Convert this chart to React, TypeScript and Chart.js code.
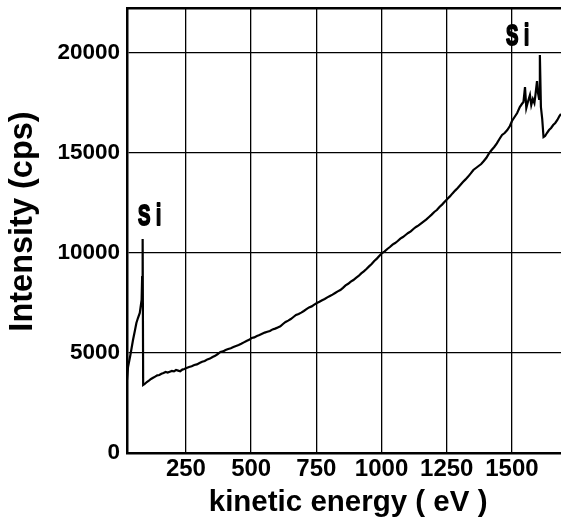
import React, { useEffect, useRef } from "react";
import { Chart, registerables } from "chart.js";

Chart.register(...registerables);

const energy = [
  24, 28, 37, 47, 54, 60, 66, 73, 80, 82, 84, 86, 92, 100, 108, 116, 124, 132, 140, 148,
  156, 164, 172, 180, 188, 196, 204, 212, 220, 228, 236, 244, 252, 262, 272, 282, 292, 302, 312, 322,
  332, 342, 352, 362, 372, 382, 392, 402, 412, 422, 432, 442, 452, 462, 472, 482, 492, 502, 512, 522,
  532, 542, 552, 562, 572, 582, 592, 602, 612, 622, 632, 642, 652, 662, 672, 682, 692, 702, 712, 722,
  732, 742, 752, 762, 772, 782, 792, 802, 812, 822, 832, 842, 852, 862, 872, 882, 892, 902, 912, 922,
  932, 942, 952, 962, 972, 982, 992, 1002, 1012, 1022, 1032, 1042, 1052, 1062, 1072, 1082, 1092, 1102, 1112, 1122,
  1132, 1142, 1152, 1162, 1172, 1182, 1192, 1202, 1212, 1222, 1232, 1242, 1252, 1262, 1272, 1282, 1292, 1302, 1312, 1322,
  1332, 1342, 1352, 1362, 1372, 1382, 1392, 1402, 1412, 1422, 1432, 1442, 1452, 1462, 1472, 1482, 1492, 1500, 1510, 1520,
  1530, 1538, 1544, 1550, 1555, 1562, 1569, 1574, 1580, 1586, 1590, 1596, 1600, 1604, 1607, 1611, 1616, 1621, 1627, 1634,
  1642, 1650, 1658, 1666, 1674, 1682, 1688,
];

const counts = [
  3650, 4300, 4900, 5650, 6100, 6500, 6750, 7000, 7650, 8800, 10700, 3400, 3450, 3550, 3620, 3700, 3760, 3820, 3880, 3900,
  3960, 4000, 4050, 4020, 4060, 4100, 4080, 4150, 4120, 4090, 4170, 4200, 4250, 4300, 4340, 4400, 4430, 4500, 4560, 4600,
  4680, 4720, 4800, 4860, 4950, 5050, 5080, 5150, 5200, 5240, 5300, 5350, 5400, 5460, 5530, 5600, 5660, 5750, 5780, 5850,
  5900, 5960, 6020, 6060, 6100, 6180, 6220, 6280, 6330, 6450, 6550, 6620, 6700, 6800, 6900, 6950, 7020, 7100, 7190, 7280,
  7330, 7420, 7500, 7560, 7640, 7700, 7780, 7850, 7920, 8000, 8080, 8150, 8260, 8380, 8460, 8570, 8650, 8760, 8850, 8980,
  9080, 9200, 9330, 9450, 9600, 9720, 9860, 10000, 10080, 10200, 10300, 10420, 10500, 10600, 10720, 10800, 10900, 11000, 11080, 11200,
  11300, 11380, 11480, 11580, 11680, 11800, 11920, 12050, 12150, 12300, 12420, 12560, 12700, 12830, 12980, 13120, 13250, 13400, 13550, 13680,
  13820, 13980, 14150, 14250, 14350, 14450, 14600, 14760, 14980, 15150, 15300, 15480, 15700, 15900, 16000, 16150, 16350, 16600, 16800, 17000,
  17300, 17450, 17550, 18300, 17250, 17600, 17900, 17400, 17700, 17500, 17900, 18600, 18000, 17700, 19900, 17300, 16700, 15800, 15850, 16000,
  16150, 16250, 16400, 16500, 16650, 16850, 16950,
];

const xTickValues = [250, 500, 750, 1000, 1250, 1500];
const yTickValues = [0, 5000, 10000, 15000, 20000];
const xLabel = " kinetic energy ( eV )";
const yLabel = "  Intensity (cps)";
const peakLabels = ["Si", "Si"];
const peakLabelEnergy = [112, 1523];
const peakLabelCounts = [11400, 20400];

const FONT = '"Liberation Sans", Arial, Helvetica, sans-serif';

const peakLabelPlugin = {
  id: "peakLabels",
  afterDatasetsDraw(chart: any) {
    const { ctx, scales } = chart;
    ctx.save();
    ctx.fillStyle = "#000";
    ctx.strokeStyle = "#000";
    ctx.lineWidth = 2;
    ctx.lineJoin = "round";
    ctx.font = `bold 30px ${FONT}`;
    ctx.textAlign = "center";
    ctx.textBaseline = "alphabetic";
    peakLabels.forEach((t, i) => {
      const x = scales.x.getPixelForValue(peakLabelEnergy[i]);
      const y = scales.y.getPixelForValue(peakLabelCounts[i]);
      ctx.save();
      ctx.translate(x, y);
      ctx.scale(0.62, 1);
      if ("letterSpacing" in ctx) (ctx as any).letterSpacing = "9px";
      ctx.fillText(t, 4, 0);
      ctx.strokeText(t, 4, 0);
      ctx.restore();
    });
    ctx.restore();
  },
};

export default function App() {
  const canvasRef = useRef<HTMLCanvasElement | null>(null);

  useEffect(() => {
    if (!canvasRef.current) return;
    const points = energy.map((e, i) => ({ x: e, y: counts[i] }));
    const chart = new Chart(canvasRef.current, {
      type: "scatter",
      data: {
        datasets: [
          {
            data: points,
            showLine: true,
            borderColor: "#000",
            backgroundColor: "#000",
            borderWidth: 2.2,
            pointRadius: 0,
            tension: 0,
          },
        ],
      },
      options: {
        animation: false,
        responsive: true,
        maintainAspectRatio: false,
        layout: { padding: { top: 8, left: 0, right: 0, bottom: 0 } },
        plugins: { legend: { display: false }, tooltip: { enabled: false } },
        scales: {
          x: {
            type: "linear",
            position: "bottom",
            min: 24,
            max: 1688,
            afterBuildTicks: (s: any) => {
              s.ticks = xTickValues.map((v) => ({ value: v }));
            },
            afterFit: (s: any) => {
              s.height = 76;
              s.paddingLeft = 0;
              s.paddingRight = 0;
            },
            grid: { color: "#000", lineWidth: 1.3, drawTicks: false },
            border: { color: "#000", width: 2.5 },
            ticks: {
              color: "#000",
              font: { family: FONT, size: 24, weight: "bold" },
              padding: 2,
              autoSkip: false,
              maxRotation: 0,
              callback: (v: any) => String(v),
            },
            title: {
              display: true,
              text: xLabel,
              color: "#000",
              font: { family: FONT, size: 29.5, weight: "bold" },
              padding: { top: 0, bottom: 8 },
            },
          },
          x2: {
            type: "linear",
            position: "top",
            min: 24,
            max: 1688,
            afterFit: (s: any) => {
              s.height = 0;
              s.paddingLeft = 0;
              s.paddingRight = 0;
            },
            grid: { drawOnChartArea: false, drawTicks: false },
            ticks: { display: false },
            border: { display: true, color: "#000", width: 2.5 },
          },
          y: {
            type: "linear",
            min: 0,
            max: 22250,
            afterBuildTicks: (s: any) => {
              s.ticks = yTickValues.map((v) => ({ value: v }));
            },
            afterFit: (s: any) => {
              s.width = 127;
              s.paddingTop = 0;
              s.paddingBottom = 0;
            },
            grid: { color: "#000", lineWidth: 1.3, drawTicks: false },
            border: { color: "#000", width: 2.5 },
            ticks: {
              color: "#000",
              font: { family: FONT, size: 22.5, weight: "bold" },
              padding: 7,
              callback: (v: any) => String(v),
            },
            title: {
              display: true,
              text: yLabel,
              color: "#000",
              font: { family: FONT, size: 32.5, weight: "bold" },
              padding: { top: 4, bottom: 0 },
            },
          },
        },
      },
      plugins: [peakLabelPlugin],
    } as any);
    return () => chart.destroy();
  }, []);

  return (
    <div style={{ position: "fixed", left: 0, top: 0, width: 561, height: 529, background: "#fff" }}>
      <canvas ref={canvasRef} />
    </div>
  );
}
